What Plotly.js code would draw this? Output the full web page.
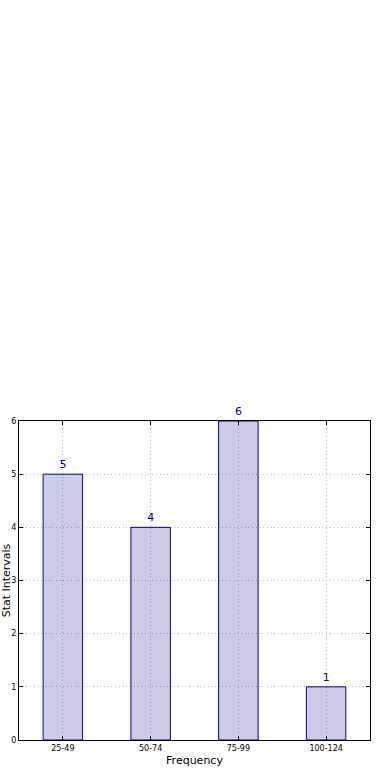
<!DOCTYPE html>
<html>
<head>
<meta charset="utf-8">
<script src="https://cdn.plot.ly/plotly-3.0.1.min.js"></script>
<style>
  html, body { margin: 0; padding: 0; background: #fff; }
  #chart { width: 390px; height: 780px; }
</style>
</head>
<body>
<div id="chart"></div>
<script>
// Frequency of stat intervals
const categories = ['25-49', '50-74', '75-99', '100-124'];
const counts = [5, 4, 6, 1];
const yTicks = [0, 1, 2, 3, 4, 5, 6];

const trace = {
  type: 'bar',
  x: categories,
  y: counts,
  width: 0.45,
  text: counts.map(String),
  textposition: 'outside',
  cliponaxis: false,
  textfont: { family: 'DejaVu Sans', size: 11, color: '#00008b' },
  marker: {
    color: 'rgba(0,0,128,0.2)',
    line: { color: '#00008b', width: 1 }
  },
  hoverinfo: 'skip'
};

const axisBase = {
  showline: true,
  linecolor: '#000',
  linewidth: 1,
  mirror: 'ticks',
  ticks: 'inside',
  ticklen: 4,
  tickcolor: '#000',
  showgrid: true,
  gridcolor: '#bdbdbd',
  griddash: '1px,2.7px',
  gridwidth: 1,
  zeroline: false,
  tickfont: { family: 'DejaVu Sans', size: 8, color: '#000' }
};

const layout = {
  width: 390,
  height: 780,
  margin: { l: 19, r: 20, t: 421, b: 40 },
  paper_bgcolor: '#fff',
  plot_bgcolor: '#fff',
  showlegend: false,
  bargap: 0,
  xaxis: Object.assign({}, axisBase, {
    type: 'category',
    range: [-0.5, 3.5],
    title: { text: 'Frequency', font: { family: 'DejaVu Sans', size: 11, color: '#000' }, standoff: 4 }
  }),
  yaxis: Object.assign({}, axisBase, {
    range: [0, 6],
    tickvals: yTicks,
    title: { text: 'Stat Intervals', font: { family: 'DejaVu Sans', size: 11, color: '#000' }, standoff: 8 }
  })
};

Plotly.newPlot('chart', [trace], layout, { staticPlot: true, displayModeBar: false });
</script>
</body>
</html>
